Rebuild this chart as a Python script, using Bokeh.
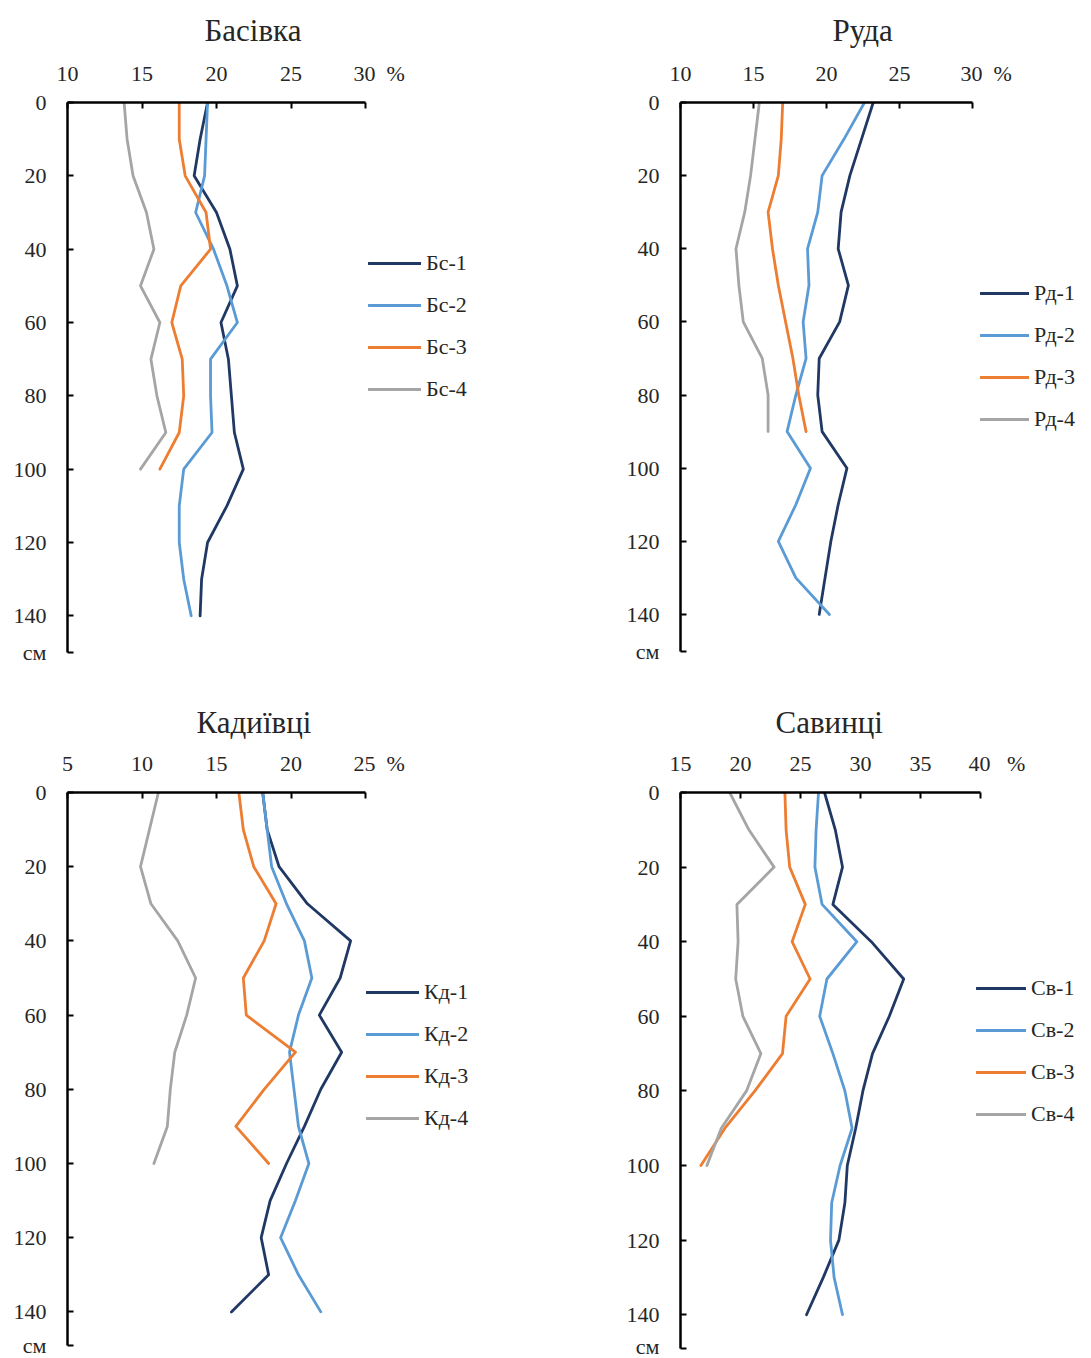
from bokeh.plotting import figure
from bokeh.models import Range1d, FixedTicker, Legend, LegendItem
from bokeh.layouts import column, row
from bokeh.embed import file_html
from bokeh.resources import INLINE

# ---------------- data (depth in cm, value in %) ----------------
depth140 = [0, 10, 20, 30, 40, 50, 60, 70, 80, 90, 100, 110, 120, 130, 140]
depth100 = [0, 10, 20, 30, 40, 50, 60, 70, 80, 90, 100]
depth90 = [0, 10, 20, 30, 40, 50, 60, 70, 80, 90]

y_ticks = [0, 20, 40, 60, 80, 100, 120, 140]
y_unit = "см"
x_unit = "%"

# Басівка
bs_names = ["Бс-1", "Бс-2", "Бс-3", "Бс-4"]
bs1 = [19.4, 18.9, 18.5, 20.0, 20.9, 21.4, 20.3, 20.8, 21.0, 21.2, 21.8, 20.7, 19.4, 19.0, 18.9]
bs2 = [19.4, 19.3, 19.2, 18.6, 19.8, 20.7, 21.4, 19.6, 19.6, 19.7, 17.8, 17.5, 17.5, 17.8, 18.3]
bs3 = [17.5, 17.5, 17.9, 19.3, 19.6, 17.6, 17.0, 17.7, 17.8, 17.5, 16.2]
bs4 = [13.8, 14.0, 14.4, 15.3, 15.8, 14.9, 16.2, 15.6, 16.0, 16.6, 14.9]
bs_ticks = [10, 15, 20, 25, 30]

# Руда
rd_names = ["Рд-1", "Рд-2", "Рд-3", "Рд-4"]
rd1 = [23.2, 22.4, 21.6, 21.0, 20.8, 21.5, 20.9, 19.5, 19.4, 19.7, 21.4, 20.8, 20.3, 19.9, 19.5]
rd2 = [22.6, 21.2, 19.7, 19.4, 18.7, 18.8, 18.4, 18.6, 17.9, 17.3, 18.9, 17.9, 16.7, 17.9, 20.2]
rd3 = [17.0, 16.9, 16.7, 16.0, 16.3, 16.7, 17.2, 17.7, 18.1, 18.6]
rd4 = [15.4, 15.1, 14.8, 14.4, 13.8, 14.0, 14.3, 15.6, 16.0, 16.0]
rd_ticks = [10, 15, 20, 25, 30]

# Кадиївці
kd_names = ["Кд-1", "Кд-2", "Кд-3", "Кд-4"]
kd1 = [18.1, 18.4, 19.2, 21.1, 24.0, 23.3, 21.9, 23.4, 22.0, 20.9, 19.7, 18.6, 18.0, 18.5, 16.0]
kd2 = [18.1, 18.4, 18.7, 19.7, 20.9, 21.4, 20.5, 19.9, 20.2, 20.5, 21.2, 20.3, 19.3, 20.5, 22.0]
kd3 = [16.5, 16.8, 17.5, 19.0, 18.2, 16.8, 17.0, 20.3, 18.2, 16.3, 18.5]
kd4 = [11.1, 10.5, 9.9, 10.6, 12.4, 13.6, 13.0, 12.2, 11.9, 11.7, 10.8]
kd_ticks = [5, 10, 15, 20, 25]

# Савинці
sv_names = ["Св-1", "Св-2", "Св-3", "Св-4"]
sv1 = [27.0, 27.9, 28.5, 27.7, 30.9, 33.6, 32.4, 31.0, 30.2, 29.6, 28.9, 28.7, 28.2, 26.9, 25.5]
sv2 = [26.5, 26.3, 26.2, 26.8, 29.7, 27.2, 26.6, 27.7, 28.7, 29.3, 28.3, 27.6, 27.5, 27.8, 28.5]
sv3 = [23.7, 23.8, 24.1, 25.4, 24.3, 25.8, 23.8, 23.5, 21.2, 18.7, 16.7]
sv4 = [19.1, 20.7, 22.8, 19.7, 19.8, 19.6, 20.2, 21.7, 20.5, 18.4, 17.2]
sv_ticks = [15, 20, 25, 30, 35, 40]

COLORS = ["#203864", "#5B9BD5", "#ED7D31", "#A5A5A5"]
FONT = "Liberation Serif"
TXT = "#262626"
NB = "\u00a0"


def make_panel(W, H, left, top, bottom, x0, ppu, ppc, ticks, series, names,
               title, title_left, title_standoff, pct_gap, cm_depth,
               legend_left, legend_first_center, glyph_w):
    frame_w = W - left
    frame_h = H - top - bottom
    x_end = x0 + frame_w / ppu
    y_end = frame_h / ppc

    p = figure(width=W, height=H, x_range=Range1d(x0, x_end), y_range=Range1d(y_end, 0),
               output_backend="svg", toolbar_location=None,
               x_axis_location="above", y_axis_location="left",
               min_border_left=left, min_border_right=0,
               min_border_top=top, min_border_bottom=bottom)
    p.grid.visible = False
    p.outline_line_color = None
    p.background_fill_color = "white"
    p.border_fill_color = "white"

    # title above the axis
    p.title.text = title
    p.title.align = "left"
    p.title.offset = title_left - left
    p.title.standoff = title_standoff
    p.title.text_font = FONT
    p.title.text_font_size = "31px"
    p.title.text_font_style = "normal"
    p.title.text_color = TXT

    xa = p.xaxis[0]
    xa.ticker = FixedTicker(ticks=ticks)
    xa.bounds = (ticks[0], ticks[-1])
    last = ticks[-1]
    xa.major_label_overrides = {last: NB * (pct_gap + 3) + str(last) + NB * pct_gap + x_unit}
    xa.minor_tick_line_color = None
    xa.major_tick_in = 6
    xa.major_tick_out = 0
    xa.major_tick_line_width = 2
    xa.axis_line_width = 2.5
    xa.axis_line_color = "black"
    xa.major_label_standoff = 17
    xa.major_label_text_font = FONT
    xa.major_label_text_font_size = "22px"
    xa.major_label_text_color = TXT

    ya = p.yaxis[0]
    ya.ticker = FixedTicker(ticks=y_ticks + [cm_depth])
    ya.bounds = (0, cm_depth)
    ya.major_label_overrides = {cm_depth: y_unit}
    ya.minor_tick_line_color = None
    ya.major_tick_in = 6
    ya.major_tick_out = 0
    ya.major_tick_line_width = 2
    ya.axis_line_width = 2.5
    ya.axis_line_color = "black"
    ya.major_label_standoff = 21
    ya.major_label_text_font = FONT
    ya.major_label_text_font_size = "22px"
    ya.major_label_text_color = TXT

    items = []
    for (d, v), n, c in zip(series, names, COLORS):
        r = p.line(v, d, line_color=c, line_width=2.8, line_join="round", line_cap="round")
        items.append(LegendItem(label=n, renderers=[r]))

    gh, sp = 26, 16
    leg_h = 4 * gh + 3 * sp
    leg_top = legend_first_center - gh / 2
    leg = Legend(items=items, location=(legend_left - left, (H - bottom) - (leg_top + leg_h)),
                 orientation="vertical", padding=0, margin=0, spacing=sp,
                 label_height=gh, glyph_height=gh, glyph_width=glyph_w, label_standoff=5,
                 border_line_color=None, background_fill_alpha=0,
                 label_text_font=FONT, label_text_font_size="22px", label_text_color=TXT)
    p.add_layout(leg)
    return p


p1 = make_panel(545, 680, 67, 100, 28, 10, 14.9, 3.68, bs_ticks,
                [(depth140, bs1), (depth140, bs2), (depth100, bs3), (depth100, bs4)], bs_names,
                "Басівка", 204, 20, 2, 150, 368, 263, 53)
p2 = make_panel(546, 680, 135, 100, 28, 10, 14.6, 3.67, rd_ticks,
                [(depth140, rd1), (depth140, rd2), (depth90, rd3), (depth90, rd4)], rd_names,
                "Руда", 287, 20, 2, 150, 435, 293, 49)
p3 = make_panel(545, 678, 67, 112, 10, 5, 14.9, 3.71, kd_ticks,
                [(depth140, kd1), (depth140, kd2), (depth100, kd3), (depth100, kd4)], kd_names,
                "Кадиївці", 196, 15, 2, 149, 366, 312, 53)
p4 = make_panel(546, 678, 135, 112, 10, 15, 12.0, 3.73, sv_ticks,
                [(depth140, sv1), (depth140, sv2), (depth100, sv3), (depth100, sv4)], sv_names,
                "Савинці", 230, 15, 3, 149, 431, 308, 50)

layout = column(row(p1, p2), row(p3, p4))
open("out.html", "w").write(file_html(layout, INLINE))
